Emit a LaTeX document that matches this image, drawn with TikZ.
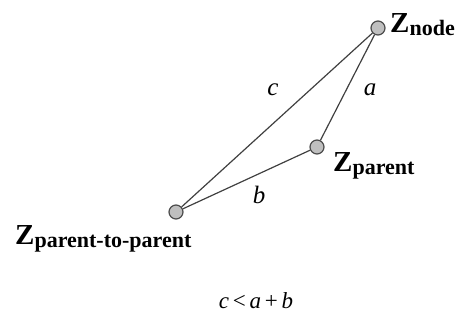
\documentclass[tikz,border=0pt]{standalone}
\usepackage{fontspec}
\setmainfont{Liberation Serif}
\usetikzlibrary{positioning}

\newcommand{\zlab}[1]{Z\raisebox{-3pt}{\fontsize{22}{23}\selectfont #1}}

\begin{document}
\begin{tikzpicture}[x=1pt,y=-1pt]
  \tikzstyle{pt}=[circle,draw=black!70,fill=black!25,line width=1.2pt,minimum size=14pt,inner sep=0pt]
  \tikzstyle{edge}=[draw=black!75,line width=1.2pt]
  \tikzstyle{lab}=[font=\fontsize{29}{30}\selectfont\bfseries,inner sep=0pt,anchor=base west]
  \tikzstyle{side}=[font=\fontsize{25}{26}\selectfont\itshape,inner sep=0pt,anchor=base]
  \useasboundingbox (0,0) rectangle (470,323);
  \node[pt] (N) at (378,28) {};
  \node[pt] (P) at (317,147) {};
  \node[pt] (PP) at (176,212) {};
  \draw[edge] (N) -- (P);
  \draw[edge] (P) -- (PP);
  \draw[edge] (PP) -- (N);
  \node[lab] (LN) at (390,33) {\zlab{node}};
  \node[lab] (LP) at (333,171) {\zlab{parent}};
  \node[lab] (LPP) at (15,244) {\zlab{parent-to-parent}};
  \node[side] (c) at (273,96) {c};
  \node[side] (a) at (370,96) {a};
  \node[side] (b) at (259,203) {b};
  \node[side,font=\fontsize{23}{24}\selectfont] (ineq) at (256,308) {\textit{c}\,<\,\textit{a}\,+\,\textit{b}};
\end{tikzpicture}
\end{document}
